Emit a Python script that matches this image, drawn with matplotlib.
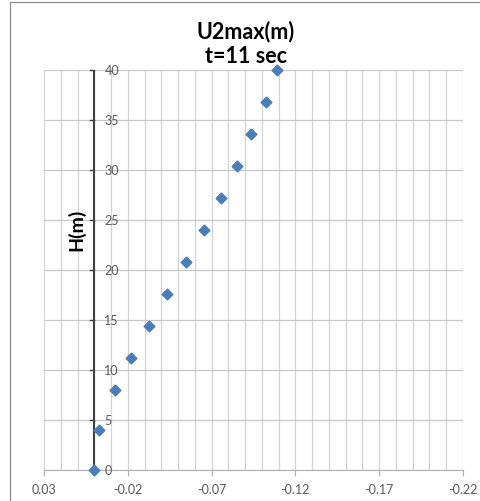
import matplotlib.pyplot as plt
import matplotlib.patches as mpatches
import numpy as np

# Daten
u2max = [0.0, -0.0028, -0.0124, -0.0217, -0.0326, -0.0436, -0.0545,
         -0.0655, -0.0754, -0.0851, -0.0935, -0.1023, -0.109]
hoehe = [0, 4, 8, 11.2, 14.4, 17.6, 20.8, 24, 27.2, 30.4, 33.6, 36.8, 40]
x_ticks = [0.03, -0.02, -0.07, -0.12, -0.17, -0.22]
y_ticks = [0, 5, 10, 15, 20, 25, 30, 35, 40]

plt.rcParams['font.family'] = ['Lato', 'DejaVu Sans']
plt.rcParams['axes.unicode_minus'] = False

fig = plt.figure(figsize=(4.81, 5.02), dpi=100)
ax = fig.add_axes([44 / 481, 1 - 471 / 502, 419 / 481, 400 / 502])

# Rahmen des Diagramms
fig.add_artist(mpatches.Rectangle((10 / 481, -0.1), 1.2, 1 - 3 / 502 + 0.1,
                                  transform=fig.transFigure, fill=False,
                                  edgecolor='#8c8c8c', lw=0.9))

ax.scatter(u2max, hoehe, marker='D', s=30, color='#4a7ebb', zorder=5,
           clip_on=False)

ax.set_xlim(0.03, -0.22)
ax.set_ylim(0, 40)
ax.set_xticks(x_ticks)
ax.set_xticklabels(['%.2f' % v for v in x_ticks])
ax.set_xticks(np.arange(0.03, -0.2201, -0.01), minor=True)
ax.tick_params(axis='x', which='minor', length=0)
ax.set_yticks(y_ticks)

ax.grid(True, which='both', axis='x', color='#d4d4d4', lw=0.9)
ax.grid(True, which='major', axis='y', color='#c8c8c8', lw=0.9)
ax.set_axisbelow(True)

for s in ['top', 'right', 'left']:
    ax.spines[s].set_visible(False)
ax.spines['bottom'].set_color('#b0b0b0')

# Y-Achse bei x=0
ax.axvline(0, color='#404040', lw=1.5, zorder=3)
for yv in y_ticks:
    ax.plot([0.0025, 0], [yv, yv], color='#404040', lw=1, zorder=3,
            clip_on=False)
    ax.text(-0.006, yv, str(yv), ha='left', va='center', fontsize=9,
            color='#595959')
ax.tick_params(axis='y', left=False, labelleft=False)
ax.tick_params(axis='x', which='major', length=4, color='#b0b0b0',
               labelsize=9, labelcolor='#595959', pad=5)

ax.text(0.011, 24.1, 'H(m)', rotation=90, ha='center', va='center',
        fontsize=14, fontweight='bold')

fig.text(246 / 481, 1 - 44 / 502, 'U2max(m)\nt=11 sec', ha='center',
         va='center', fontsize=15.5, fontweight='bold', linespacing=1.25)

fig.savefig('out.png', dpi=100)
